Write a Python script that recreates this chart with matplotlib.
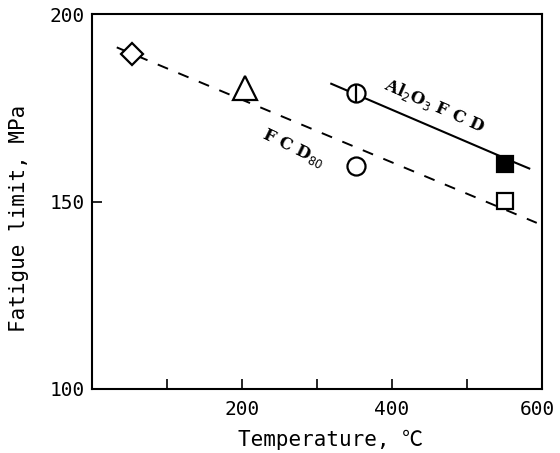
import matplotlib
matplotlib.use("Agg")
import matplotlib.pyplot as plt
import matplotlib.transforms as mtransforms
from matplotlib.ticker import FixedLocator, NullFormatter

plt.rcParams['font.family'] = ['DejaVu Sans Mono', 'Noto Sans CJK JP']
plt.rcParams['lines.scale_dashes'] = False

# measured points (temperature in C, fatigue limit in MPa)
diamond_x, diamond_y = [53], [189.4]
triangle_x, triangle_y = [204], [180.3]
barcircle_x, barcircle_y = [352], [178.9]
circle_x, circle_y = [352], [159.5]
fill_sq_x, fill_sq_y = [550], [160.1]
open_sq_x, open_sq_y = [550], [150.2]

# fitted lines
fcd80_x, fcd80_y = [33, 593], [191.1, 144.3]
al2o3_x, al2o3_y = [319, 550], [181.4, 161.6]
al2o3_tail_x, al2o3_tail_y = [559, 583], [160.8, 158.8]

x_major = [200, 400, 600]
x_minor = [100, 300, 500]
y_ticks = [100, 150, 200]

fig = plt.figure(figsize=(5.6, 4.53), dpi=100)
ax = fig.add_axes([92 / 560, 1 - 389 / 453, 450 / 560, 375 / 453])

# lines
ax.plot(fcd80_x, fcd80_y, color='black', lw=1.4, dashes=(8, 8))
ax.plot(al2o3_x, al2o3_y, color='black', lw=1.5)
ax.plot(al2o3_tail_x, al2o3_tail_y, color='black', lw=1.5)

mk = dict(color='black', mfc='white', mec='black', mew=1.6, ls='none')
ax.plot(diamond_x, diamond_y, marker='D', ms=11, **mk)
ax.plot(triangle_x, triangle_y, marker='^', ms=17, **mk)
ax.plot(barcircle_x, barcircle_y, marker='o', ms=13, **mk)
ax.plot(barcircle_x, barcircle_y, marker='|', ms=13, **mk)
ax.plot(circle_x, circle_y, marker='o', ms=13, **mk)
ax.plot(fill_sq_x, fill_sq_y, marker='s', ms=12, color='black', mfc='black',
        mec='black', mew=1.6, ls='none')
ax.plot(open_sq_x, open_sq_y, marker='s', ms=12, **mk)

# curve labels
ax.text(269, 164.3, r'F C D$_{80}$', rotation=-26, ha='center', va='center',
        fontsize=12, family='DejaVu Serif', fontweight='bold')
ax.text(457, 175.6, r'Al$_2$O$_3$ F C D', rotation=-24, ha='center', va='center',
        fontsize=12, family='DejaVu Serif', fontweight='bold')

ax.set_xlim(0, 600)
ax.set_ylim(100, 200)
ax.xaxis.set_major_locator(FixedLocator(x_major))
ax.xaxis.set_minor_locator(FixedLocator(x_minor))
ax.xaxis.set_minor_formatter(NullFormatter())
ax.set_yticks(y_ticks)

ax.tick_params(axis='x', which='both', direction='in', length=7, width=1.2,
               labelsize=14, pad=8)
ax.tick_params(axis='y', direction='in', length=7, width=1.2, labelsize=14, pad=5)

# the last x label sits a little left of its tick, as in the scan
shift = mtransforms.ScaledTranslation(-5 / 100, 0, fig.dpi_scale_trans)
lbl600 = ax.get_xticklabels()[-1]
lbl600.set_transform(lbl600.get_transform() + shift)

for s in ax.spines.values():
    s.set_linewidth(1.5)

ax.set_xlabel('Temperature, ℃', fontsize=15)
ax.xaxis.set_label_coords(0.531, -0.11)
ax.set_ylabel('Fatigue limit, MPa', fontsize=15)
ax.yaxis.set_label_coords(-0.14, 0.456)

fig.savefig('out.png', dpi=100)
